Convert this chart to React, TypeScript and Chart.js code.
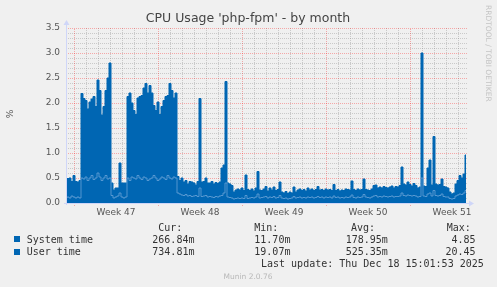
import React, { useEffect, useRef } from "react";
import { Chart, registerables } from "chart.js";

Chart.register(...registerables);

// time axis in hours relative to Sun 16 Nov 2025 00:00 (start of "Week 47" grid)
const SAMPLE_HOURS = 4;
const FIRST_SAMPLE_HOUR = -16;
const X_MIN_HOUR = -16;
const X_MAX_HOUR = 788;

const weekLabels = ["Week 47", "Week 48", "Week 49", "Week 50", "Week 51"];
const weekLabelHours = [84, 252, 420, 588, 756];
const yTickStep = 0.5;
const yMax = 3.5;

// top of the stack (system + user), one value per 4 h sample
const stackTop = [
  0.33, 0.49, 0.5, 0.43, 0.55, 0.43, 0.42, 0.45,
  2.19, 2.09, 2.05, 1.88, 2.02, 2.08, 2.13, 1.93, 2.46, 2.25, 1.76, 1.93, 2.25, 2.5, 2.8,
  0.4, 0.26, 0.3, 0.3, 0.8, 0.4, 0.4, 0.4,
  2.13, 2.2, 2.0, 1.85, 1.77, 2.1, 2.13, 2.15, 2.3, 2.39, 2.2, 2.35, 2.2, 1.95, 1.85, 2.02, 1.77, 1.93, 2.05, 2.13, 2.15, 2.39, 2.25, 2.1, 2.2,
  0.53, 0.45, 0.5, 0.42, 0.45, 0.38, 0.43, 0.42, 0.4, 0.36,
  0.43, 2.09, 0.42, 0.43, 0.5, 0.4, 0.4, 0.43, 0.38, 0.41,
  0.39, 0.42, 0.7, 0.76, 2.43, 0.4, 0.38, 0.35, 0.22, 0.26,
  0.28, 0.26, 0.3, 0.25, 0.56, 0.27, 0.25, 0.28, 0.24, 0.3,
  0.63, 0.26, 0.25, 0.28, 0.33, 0.24, 0.3, 0.26, 0.32, 0.25,
  0.27, 0.42, 0.22, 0.2, 0.23, 0.19, 0.22, 0.2, 0.32, 0.22,
  0.26, 0.28, 0.25, 0.27, 0.24, 0.3, 0.26, 0.28, 0.25, 0.27,
  0.33, 0.26, 0.27, 0.25, 0.28, 0.26, 0.27, 0.25, 0.37, 0.25,
  0.27, 0.24, 0.26, 0.25, 0.28, 0.27, 0.26, 0.44, 0.27, 0.25,
  0.28, 0.26, 0.27, 0.48, 0.27, 0.26, 0.25, 0.28, 0.35, 0.36,
  0.3, 0.32, 0.3, 0.33, 0.31, 0.3, 0.32, 0.34, 0.3, 0.33,
  0.32, 0.35, 0.72, 0.38, 0.36, 0.42, 0.37, 0.34, 0.39, 0.35,
  0.3, 0.32, 3.0, 0.34, 0.33, 0.7, 0.86, 0.36, 1.33, 0.38,
  0.36, 0.37, 0.48, 0.33, 0.32, 0.3, 0.22, 0.18, 0.2, 0.38,
  0.45, 0.55, 0.5, 0.58, 0.96,
];

// system time (lower band), one value per 4 h sample
const systemTime = [
  0.1, 0.12, 0.1, 0.14, 0.12, 0.1, 0.12, 0.1,
  0.5, 0.48, 0.52, 0.45, 0.5, 0.55, 0.47, 0.5, 0.6, 0.52, 0.45, 0.5, 0.55, 0.48, 0.5,
  0.15, 0.1, 0.12, 0.14, 0.2, 0.12, 0.1, 0.12,
  0.5, 0.45, 0.52, 0.5, 0.48, 0.55, 0.5, 0.47, 0.52, 0.5, 0.45, 0.48, 0.5, 0.55, 0.5, 0.45, 0.48, 0.52, 0.5, 0.47, 0.55, 0.5, 0.48, 0.52, 0.5,
  0.2, 0.18, 0.16, 0.15, 0.17, 0.14, 0.15, 0.13, 0.14, 0.15,
  0.13, 0.3, 0.13, 0.14, 0.15, 0.12, 0.13, 0.12, 0.11, 0.13,
  0.12, 0.14, 0.15, 0.2, 0.4, 0.12, 0.11, 0.1, 0.08, 0.09,
  0.1, 0.09, 0.1, 0.09, 0.15, 0.09, 0.1, 0.11, 0.1, 0.12,
  0.18, 0.1, 0.11, 0.12, 0.13, 0.1, 0.12, 0.11, 0.13, 0.1,
  0.11, 0.15, 0.1, 0.09, 0.1, 0.08, 0.09, 0.1, 0.13, 0.1,
  0.11, 0.12, 0.1, 0.11, 0.1, 0.12, 0.11, 0.12, 0.1, 0.11,
  0.13, 0.11, 0.12, 0.1, 0.12, 0.11, 0.12, 0.1, 0.14, 0.11,
  0.12, 0.1, 0.11, 0.1, 0.12, 0.11, 0.12, 0.16, 0.11, 0.1,
  0.12, 0.11, 0.12, 0.17, 0.12, 0.11, 0.1, 0.12, 0.14, 0.15,
  0.12, 0.13, 0.12, 0.14, 0.13, 0.12, 0.13, 0.14, 0.12, 0.13,
  0.13, 0.14, 0.2, 0.15, 0.14, 0.16, 0.15, 0.14, 0.15, 0.14,
  0.12, 0.13, 0.5, 0.14, 0.13, 0.18, 0.2, 0.14, 0.25, 0.15,
  0.14, 0.15, 0.18, 0.13, 0.12, 0.12, 0.09, 0.08, 0.09, 0.14,
  0.16, 0.18, 0.17, 0.2, 0.25,
];

const legendHeaders = ["Cur:", "Min:", "Avg:", "Max:"];
const seriesNames = ["System time", "User time"];
const seriesCur = ["266.84m", "734.81m"];
const seriesMin = ["11.70m", "19.07m"];
const seriesAvg = ["178.95m", "525.35m"];
const seriesMax = ["4.85", "20.45"];
const titleText = "CPU Usage 'php-fpm' - by month";
const lastUpdate = "Last update: Thu Dec 18 15:01:53 2025";
const footer = "Munin 2.0.76";
const watermark = "RRDTOOL / TOBI OETIKER";

const FILL = "#0066b3";
const BG = "#f0f0f0";
const MINOR = "rgba(143,143,143,0.4)";
const MAJOR = "rgba(255,0,0,0.3)";
const AXIS = "#cfd6f8";

const toPoints = (vals: number[]) =>
  vals.map((v, i) => ({ x: FIRST_SAMPLE_HOUR + i * SAMPLE_HOURS, y: v }));

const muninPlugin = {
  id: "munin",
  beforeDraw(chart: any) {
    const { ctx, width, height } = chart;
    ctx.save();
    ctx.fillStyle = BG;
    ctx.fillRect(0, 0, width, height);
    ctx.restore();
  },
  beforeDatasetsDraw(chart: any) {
    const { ctx, chartArea, scales } = chart;
    const { left, right, top, bottom } = chartArea;
    const x = scales.x;
    const y = scales.y;
    ctx.save();
    ctx.lineWidth = 1;
    ctx.setLineDash([1, 1]);
    const steps = Math.round(yMax * 10);
    for (let k = 1; k <= steps; k++) {
      if (k % 5 === 0) continue;
      const py = Math.round(y.getPixelForValue(k / 10)) + 0.5;
      ctx.strokeStyle = MINOR;
      ctx.beginPath();
      ctx.moveTo(left, py);
      ctx.lineTo(right, py);
      ctx.stroke();
    }
    for (let h = 0; h <= X_MAX_HOUR; h += 24) {
      if (h % 168 === 0) continue;
      const px = Math.round(x.getPixelForValue(h)) + 0.5;
      ctx.strokeStyle = MINOR;
      ctx.beginPath();
      ctx.moveTo(px, bottom);
      ctx.lineTo(px, top);
      ctx.stroke();
    }
    for (let k = 5; k <= steps; k += 5) {
      const py = Math.round(y.getPixelForValue(k / 10)) + 0.5;
      ctx.strokeStyle = MAJOR;
      ctx.beginPath();
      ctx.moveTo(left, py);
      ctx.lineTo(right, py);
      ctx.stroke();
    }
    for (let h = 0; h <= X_MAX_HOUR; h += 168) {
      const px = Math.round(x.getPixelForValue(h)) + 0.5;
      ctx.strokeStyle = MAJOR;
      ctx.beginPath();
      ctx.moveTo(px, bottom + 3);
      ctx.lineTo(px, top);
      ctx.stroke();
    }
    ctx.restore();
  },
  afterDatasetsDraw(chart: any) {
    const { ctx, chartArea } = chart;
    const { left, right, top, bottom } = chartArea;
    ctx.save();
    ctx.strokeStyle = AXIS;
    ctx.fillStyle = AXIS;
    ctx.lineWidth = 1;
    const ax = left + 0.5;
    const ay = bottom + 0.5;
    ctx.beginPath();
    ctx.moveTo(ax, bottom + 2);
    ctx.lineTo(ax, top - 4);
    ctx.stroke();
    ctx.beginPath();
    ctx.moveTo(ax - 3, top - 3);
    ctx.lineTo(ax + 3, top - 3);
    ctx.lineTo(ax, top - 8);
    ctx.closePath();
    ctx.fill();
    ctx.beginPath();
    ctx.moveTo(left - 2, ay);
    ctx.lineTo(right + 2, ay);
    ctx.stroke();
    ctx.beginPath();
    ctx.moveTo(right + 1, ay - 3);
    ctx.lineTo(right + 1, ay + 3);
    ctx.lineTo(right + 6, ay);
    ctx.closePath();
    ctx.fill();
    ctx.restore();
  },
  afterDraw(chart: any) {
    const { ctx } = chart;
    ctx.save();
    ctx.textBaseline = "middle";
    ctx.fillStyle = "#444";
    ctx.font = "12.5px 'DejaVu Sans'";
    ctx.textAlign = "center";
    ctx.fillText(titleText, 248, 19);
    ctx.save();
    ctx.translate(11, 114);
    ctx.rotate(-Math.PI / 2);
    ctx.font = "9px 'DejaVu Sans'";
    ctx.fillStyle = "#555";
    ctx.fillText("%", 0, 0);
    ctx.restore();
    ctx.save();
    ctx.translate(488, 5);
    ctx.rotate(Math.PI / 2);
    ctx.textAlign = "left";
    ctx.font = "7.5px 'DejaVu Sans'";
    ctx.fillStyle = "#c4c4c4";
    ctx.fillText(watermark, 0, 0);
    ctx.restore();
    ctx.font = "10px 'DejaVu Sans Mono'";
    ctx.fillStyle = "#333";
    ctx.textAlign = "left";
    const headerX = [158.3, 254.3, 351, 446.7];
    legendHeaders.forEach((h, i) => ctx.fillText(h, headerX[i], 228.5));
    const rowY = [240, 252];
    const sqY = [236, 249];
    for (let r = 0; r < seriesNames.length; r++) {
      ctx.fillStyle = FILL;
      ctx.fillRect(14, sqY[r], 6, 6);
      ctx.fillStyle = "#333";
      ctx.textAlign = "left";
      ctx.fillText(seriesNames[r], 26.7, rowY[r]);
      ctx.fillText(seriesCur[r], 152.3, rowY[r]);
      ctx.fillText(seriesMin[r], 254.3, rowY[r]);
      ctx.fillText(seriesAvg[r], 345.7, rowY[r]);
      ctx.textAlign = "right";
      ctx.fillText(seriesMax[r], 475.5, rowY[r]);
    }
    ctx.textAlign = "left";
    ctx.fillText(lastUpdate, 261, 264);
    ctx.textAlign = "center";
    ctx.font = "7.5px 'DejaVu Sans'";
    ctx.fillStyle = "#b8b8b8";
    ctx.fillText(footer, 248, 277);
    ctx.restore();
  },
};

export default function App() {
  const ref = useRef<HTMLCanvasElement | null>(null);
  useEffect(() => {
    if (!ref.current) return;
    Chart.defaults.font.family = "'DejaVu Sans'";
    const chart = new Chart(ref.current, {
      type: "line",
      data: {
        datasets: [
          {
            label: seriesNames[0],
            data: toPoints(systemTime),
            borderColor: "rgba(110,165,218,0.75)",
            borderWidth: 1,
            fill: false,
            stepped: "middle",
            pointRadius: 0,
            order: 0,
          } as any,
          {
            label: seriesNames[1],
            data: toPoints(stackTop),
            borderColor: FILL,
            backgroundColor: FILL,
            borderWidth: 1,
            fill: "origin",
            stepped: "middle",
            pointRadius: 0,
            order: 1,
          } as any,
        ],
      },
      options: {
        animation: false,
        responsive: false,
        devicePixelRatio: 1,
        layout: { padding: { top: 28, right: 29, left: 0, bottom: 0 } },
        plugins: { legend: { display: false }, tooltip: { enabled: false }, title: { display: false } },
        scales: {
          x: {
            type: "linear",
            min: X_MIN_HOUR,
            max: X_MAX_HOUR,
            grid: { display: false, drawTicks: false },
            border: { display: false },
            afterBuildTicks: (s: any) => {
              s.ticks = weekLabelHours.map((v) => ({ value: v }));
            },
            afterFit: (s: any) => {
              s.height = 84;
            },
            ticks: {
              autoSkip: false,
              maxRotation: 0,
              minRotation: 0,
              padding: 4,
              color: "#555",
              font: { size: 9, family: "'DejaVu Sans'" },
              callback: (_v: any, i: number) => weekLabels[i],
            },
          },
          y: {
            type: "linear",
            min: 0,
            max: yMax,
            grid: { display: false, drawTicks: false },
            border: { display: false },
            afterFit: (s: any) => {
              s.width = 66;
            },
            ticks: {
              stepSize: yTickStep,
              padding: 6,
              color: "#555",
              font: { size: 9, family: "'DejaVu Sans'" },
              callback: (v: any) => Number(v).toFixed(1),
            },
          },
        },
      },
      plugins: [muninPlugin],
    });
    return () => chart.destroy();
  }, []);
  return (
    <div style={{ position: "fixed", left: 0, top: 0, width: 497, height: 287 }}>
      <canvas ref={ref} width={497} height={287} />
    </div>
  );
}
